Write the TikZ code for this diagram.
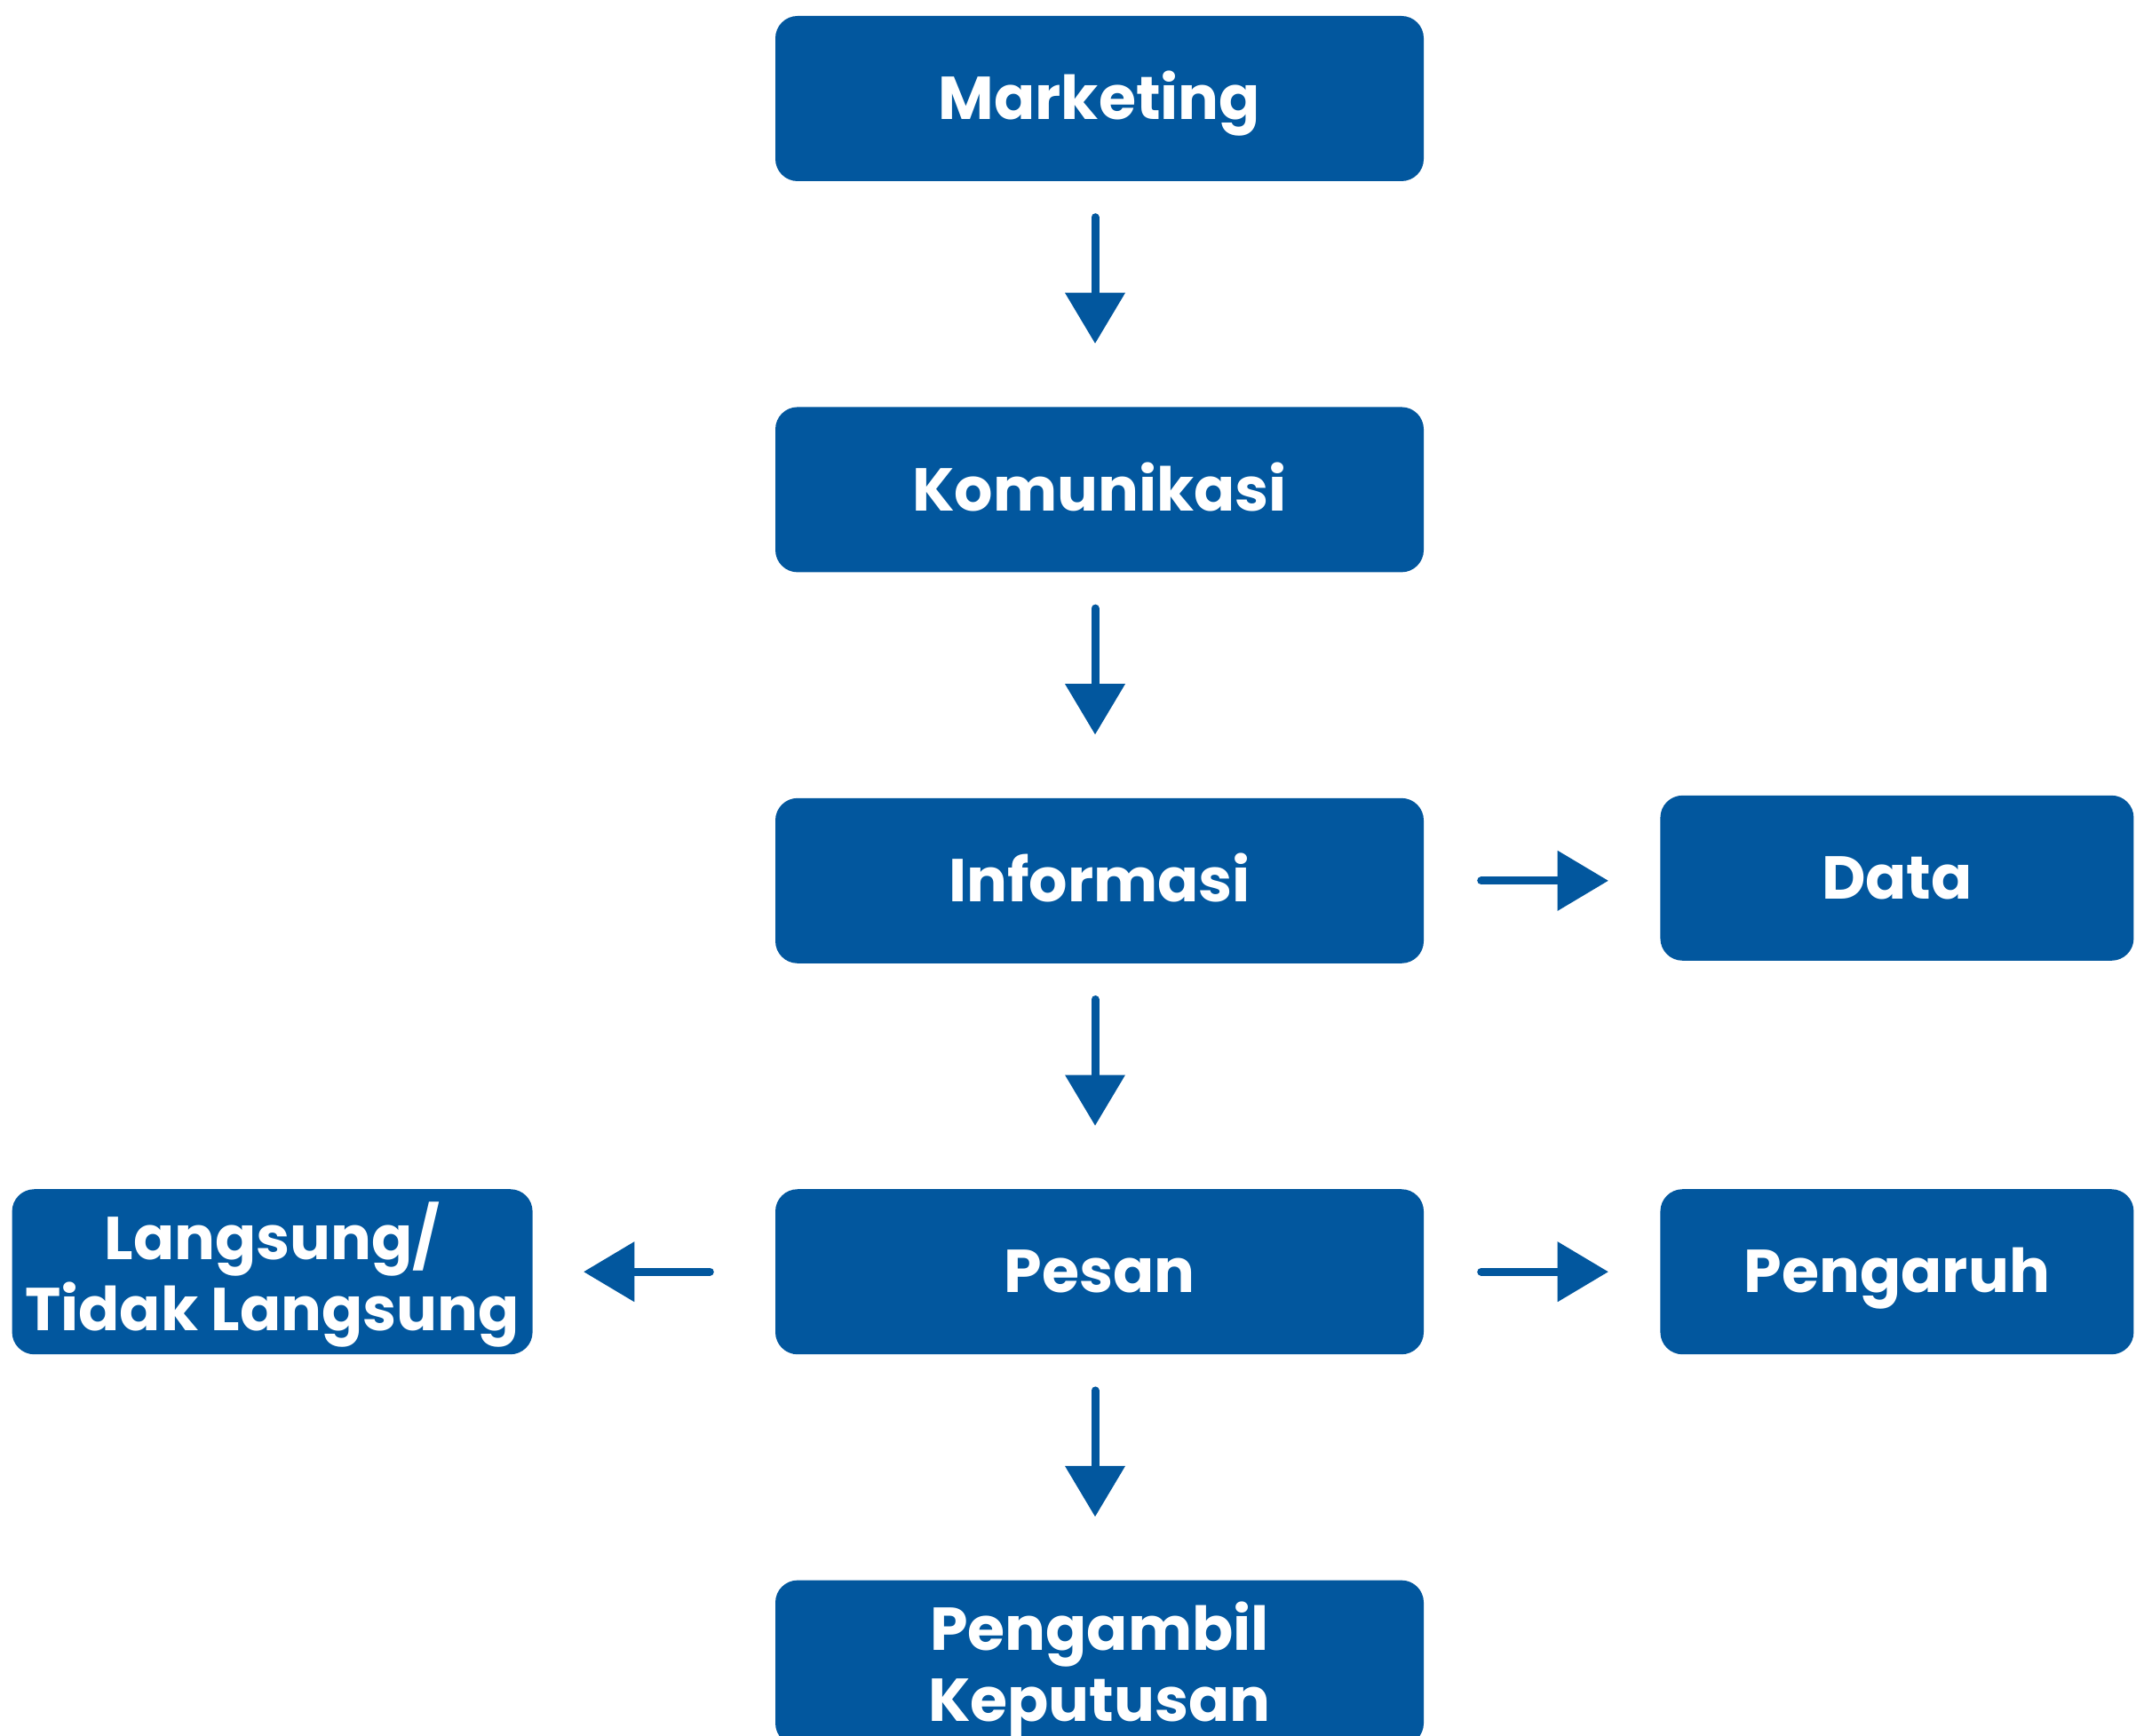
\documentclass[tikz,border=0pt]{standalone}
\usepackage{fontspec}
\setmainfont{Poppins}
\usetikzlibrary{arrows.meta}
\usetikzlibrary{positioning}
\definecolor{mblue}{RGB}{2,87,158}
\tikzset{box/.style = {fill=mblue, rounded corners=0.25cm, text=white,
                       font=\bfseries\fontsize{19.4}{22.7}\selectfont, align=center,
                       text height=13.5pt, text depth=0pt,
                       minimum width=7.3cm, minimum height=1.86cm, inner sep=0pt},
         twolines/.style = {text height=37.5pt, text depth=0pt},
         flow/.style = {mblue, line width=0.09cm, line cap=round,
                        -{Triangle[width=0.68cm, length=0.57cm, line width=0pt]}}}

\begin{document}
\begin{tikzpicture}
      \useasboundingbox (0, 0) rectangle (24.05, -19.55);
      \node [box] (marketing) at (12.38, -1.11) {Marketing};
      \node [box, below = 2.53cm of marketing] (komunikasi) {Komunikasi};
      \node [box, below = 2.53cm of komunikasi] (informasi) {Informasi};
      \node [box, below = 2.53cm of informasi] (pesan) {Pesan};
      \node [box, twolines, below = 2.53cm of pesan] (pengambil) {Pengambil\\Keputusan};
      \node [box, minimum width=5.33cm, right = 2.65cm of informasi, yshift=0.03cm] (data) {Data};
      \node [box, minimum width=5.33cm, right = 2.65cm of pesan] (pengaruh) {Pengaruh};
      \node [box, twolines, minimum width=5.86cm, left = 2.72cm of pesan] (langsung) {Langsung/\\Tidak Langsung};
      % down the middle, a little left of centre
      \foreach \a/\b in {marketing/komunikasi, komunikasi/informasi, informasi/pesan, pesan/pengambil}
        \draw [flow, shorten <=0.4cm, shorten >=0.71cm] ([xshift=-0.05cm]\a.south) -- ([xshift=-0.05cm]\b.north);
      % to the sides
      \draw [flow, shorten <=0.64cm, shorten >=0.58cm] (informasi.east) -- (informasi.east -| data.west);
      \draw [flow, shorten <=0.64cm, shorten >=0.58cm] (pesan) -- (pengaruh);
      \draw [flow, shorten <=0.73cm, shorten >=0.57cm] (pesan) -- (langsung);
    \end{tikzpicture}
\end{document}
